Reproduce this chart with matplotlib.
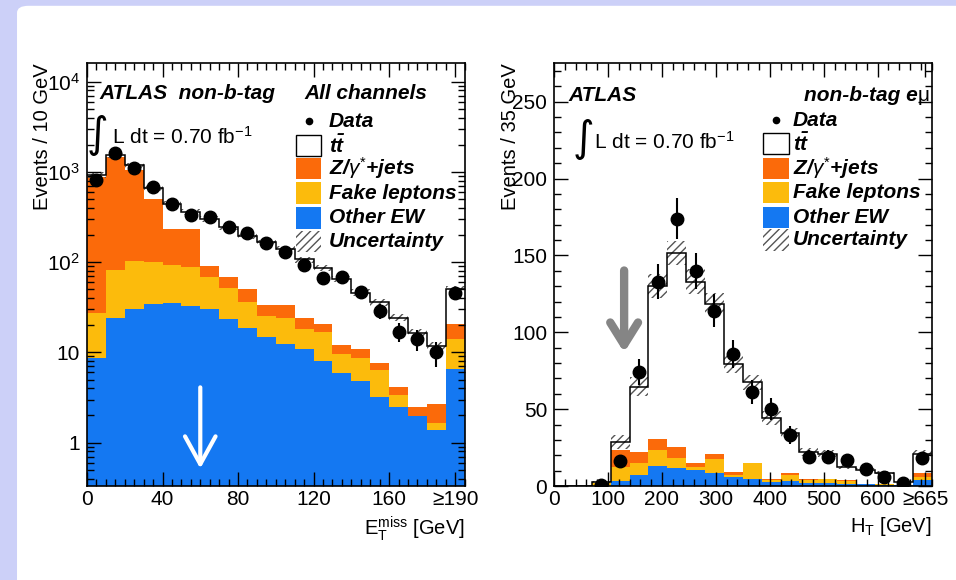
import numpy as np
import matplotlib
matplotlib.use("Agg")
import matplotlib.pyplot as plt
from matplotlib.patches import Rectangle, FancyBboxPatch
from matplotlib.ticker import MultipleLocator, LogLocator, NullFormatter

plt.rcParams["font.family"] = ["Liberation Sans", "DejaVu Sans"]
plt.rcParams["mathtext.fontset"] = "custom"
plt.rcParams["mathtext.rm"] = "Liberation Sans"
plt.rcParams["mathtext.it"] = "Liberation Sans:italic"
plt.rcParams["mathtext.bf"] = "Liberation Sans:bold:italic"
plt.rcParams["hatch.linewidth"] = 1.0

BLUE = "#1478f2"
YELLOW = "#fcbb0c"
ORANGE = "#fb6a0a"
HATCH = "#555555"

# --- missing E_T, 10 GeV bins, last bin holds everything >= 190 GeV ---
met_edges = np.arange(0, 201, 10)
met_data = [815, 1620, 1100, 675, 435, 333, 313, 243, 208, 161,
            128, 94, 67, 69, 47, 29, 17, 14, 10, 45]
met_ew = [8.7, 24, 30, 34, 35, 32.7, 30, 23.3, 18.8, 14.8,
          12.3, 10.8, 8.1, 5.9, 4.8, 3.2, 2.5, 1.96, 1.39, 6.5]
met_fakes = [18.3, 58, 73, 66, 58, 56.3, 39, 28.7, 17.2, 10.2,
             11.7, 7.5, 8.7, 3.6, 3.9, 3.1, 0.9, 0.0, 0.26, 7.4]
met_zjets = [843, 1368, 947, 400, 140, 144, 22, 16, 14, 8.5,
             9.5, 5.7, 3.7, 2.5, 2.1, 1.4, 0.7, 0.54, 1.05, 6.6]
met_ttbar = [60, 70, 130, 160, 207, 130, 209, 175, 146, 132.5,
             105.5, 83, 66.5, 53, 35.2, 28.3, 20.2, 14, 9, 30.5]
met_unc = [70, 110, 85, 50, 33, 27, 22, 18, 15, 12,
           10, 8, 7, 5, 4, 3, 2.2, 1.6, 1.2, 4]
met_ticks = [0, 40, 80, 120, 160, 195]
met_ticklabels = ["0", "40", "80", "120", "160", "\u2265190"]

# --- H_T in the e-mu channel, 35 GeV bins, last bin holds >= 665 GeV ---
ht_edges = np.arange(0, 701, 35)
ht_data = [np.nan, np.nan, 1, 16, 74, 133, 174, 140, 114, 86,
           61, 50, 33, 19, 19, 17, 11, 6, 2, 18]
ht_ew = [0, 0, 0.3, 3.2, 7.1, 12.9, 11.8, 10.4, 8.6, 6,
         4.5, 2.8, 3.5, 2, 1.7, 1.3, 1.1, 0.9, 0.6, 3.9]
ht_fakes = [0, 0, 1.8, 9.3, 7.6, 10.4, 6.7, 2.1, 9.3, 1.5,
            10.2, 1.1, 3.6, 1.9, 2.8, 2.2, 0.2, 0.3, 0.2, 2.1]
ht_zjets = [0, 0, 0.2, 10.8, 7.5, 7.6, 6.9, 2.8, 3.1, 1.8,
            0.4, 0.6, 1.1, 0.6, 0.2, 0.2, 0.2, 0.1, 0.1, 2.6]
ht_ttbar = [0, 0, 0.2, 5.4, 42.5, 99.1, 126.2, 117.7, 97.7, 70.1,
            52.4, 39.7, 26.3, 17.7, 16.3, 8.8, 8.9, 7.3, 1.9, 12.4]
ht_unc = [0, 0, 0.5, 4.5, 6, 8, 8, 8, 7, 6,
          5, 4.5, 3.5, 2.5, 2.2, 1.5, 1.2, 1, 0.6, 2.2]
ht_ticks = [0, 100, 200, 300, 400, 500, 600, 688]
ht_ticklabels = ["0", "100", "200", "300", "400", "500", "600", "\u2265665"]

FS = 15


def draw_stack(ax, edges, ew, fakes, zjets, ttbar, unc, data, base):
    top_ew = np.array(ew, dtype=float)
    top_fk = top_ew + np.array(fakes)
    top_z = top_fk + np.array(zjets)
    total = top_z + np.array(ttbar)
    unc = np.array(unc)
    ax.stairs(top_ew, edges, baseline=base, fill=True, color=BLUE, lw=0)
    ax.stairs(top_fk, edges, baseline=top_ew, fill=True, color=YELLOW, lw=0)
    ax.stairs(top_z, edges, baseline=top_fk, fill=True, color=ORANGE, lw=0)
    ax.stairs(total + unc, edges, baseline=total - unc, fill=True,
              facecolor="none", edgecolor=HATCH, hatch="////", lw=0)
    ax.stairs(total, edges, baseline=None, color="black", lw=1.1)
    centers = 0.5 * (edges[1:] + edges[:-1])
    d = np.array(data, dtype=float)
    ax.errorbar(centers, d, yerr=np.sqrt(d), fmt="o", color="black",
                ms=9, elinewidth=1.5, capsize=0, zorder=5)


def draw_legend(ax, x_box, x_text, rows):
    w = 0.068
    h = 0.05
    labels = ["Data", r"$\mathbf{t\bar{t}}$", r"$\mathbf{Z/}\gamma^{*}\mathbf{+jets}$",
              "Fake leptons", "Other EW", "Uncertainty"]
    for i, (lab, y) in enumerate(zip(labels, rows)):
        if i == 0:
            ax.plot([x_box + w / 2], [y], "o", color="black", ms=4.5,
                    transform=ax.transAxes, clip_on=False)
        else:
            kw = dict(transform=ax.transAxes, clip_on=False, lw=0)
            if i == 1:
                kw.update(facecolor="white", edgecolor="black", lw=1.0)
            elif i == 2:
                kw.update(facecolor=ORANGE)
            elif i == 3:
                kw.update(facecolor=YELLOW)
            elif i == 4:
                kw.update(facecolor=BLUE)
            else:
                kw.update(facecolor="none", edgecolor=HATCH, hatch="////")
            ax.add_patch(Rectangle((x_box, y - h / 2), w, h, **kw))
        ax.text(x_text, y, lab, transform=ax.transAxes, fontsize=FS,
                fontweight="bold", fontstyle="italic", va="center", ha="left")


def style_axes(ax):
    for s in ax.spines.values():
        s.set_linewidth(1.2)
    ax.tick_params(which="both", direction="in", top=True, right=True,
                   labelsize=FS, width=1.0)
    ax.tick_params(which="major", length=10)
    ax.tick_params(which="minor", length=5)
    ax.tick_params(axis="x", pad=3)
    ax.tick_params(axis="y", pad=5)


fig = plt.figure(figsize=(9.56, 5.8), dpi=100)
fig.patch.set_facecolor("#ccd0f8")
fig.add_artist(FancyBboxPatch((0.0178, -0.05), 1.2, 1.04, transform=fig.transFigure,
                              boxstyle="round,pad=0,rounding_size=0.012",
                              facecolor="white", edgecolor="none", zorder=0))

# left panel: missing transverse energy, log scale
ax1 = fig.add_axes([0.091, 0.162, 0.395, 0.729])
draw_stack(ax1, met_edges, met_ew, met_fakes, met_zjets, met_ttbar, met_unc, met_data, 1e-3)
ax1.set_yscale("log")
ax1.set_xlim(0, 200)
ax1.set_ylim(0.33, 1.6e4)
ax1.set_xticks(met_ticks, met_ticklabels)
ax1.xaxis.set_minor_locator(MultipleLocator(5))
ax1.set_yticks([1, 10, 100, 1000, 10000],
               ["1", "10", r"$10^{2}$", r"$10^{3}$", r"$10^{4}$"])
ax1.yaxis.set_minor_locator(LogLocator(base=10, subs=np.arange(2, 10)))
ax1.yaxis.set_minor_formatter(NullFormatter())
style_axes(ax1)
ax1.set_ylabel("Events / 10 GeV", fontsize=14.5, loc="top")
ax1.yaxis.set_label_coords(-0.093, 1.0)
ax1.set_xlabel(r"E$_{\rm T}^{\rm miss}$ [GeV]", fontsize=14.5, loc="right")
ax1.xaxis.set_label_coords(1.0, -0.068)
ax1.text(0.034, 0.929, "ATLAS  non-b-tag", transform=ax1.transAxes, fontsize=FS,
         fontweight="bold", fontstyle="italic", va="center")
ax1.text(0.577, 0.929, "All channels", transform=ax1.transAxes, fontsize=FS,
         fontweight="bold", fontstyle="italic", va="center")
ax1.text(0.0, 0.83, "\u222b", transform=ax1.transAxes, fontsize=30,
         family="DejaVu Sans", va="center", zorder=6)
ax1.text(0.066, 0.826, r"L dt = 0.70 fb$^{-1}$", transform=ax1.transAxes,
         fontsize=FS, va="center", zorder=6)
draw_legend(ax1, 0.553, 0.640, [0.863, 0.805, 0.752, 0.693, 0.634, 0.579])
ax1.annotate("", xy=(60, 0.035), xytext=(60, 0.24),
             xycoords=ax1.get_xaxis_transform(), textcoords=ax1.get_xaxis_transform(),
             arrowprops=dict(arrowstyle="->,head_length=1.0,head_width=0.55",
                             color="white", lw=3, mutation_scale=20))

# right panel: H_T, linear scale
ax2 = fig.add_axes([0.5795, 0.162, 0.395, 0.729])
draw_stack(ax2, ht_edges, ht_ew, ht_fakes, ht_zjets, ht_ttbar, ht_unc, ht_data, 0)
ax2.set_xlim(0, 700)
ax2.set_ylim(0, 275)
ax2.set_xticks(ht_ticks, ht_ticklabels)
ax2.xaxis.set_minor_locator(MultipleLocator(20))
ax2.yaxis.set_major_locator(MultipleLocator(50))
ax2.yaxis.set_minor_locator(MultipleLocator(10))
style_axes(ax2)
ax2.set_ylabel("Events / 35 GeV", fontsize=14.5, loc="top")
ax2.yaxis.set_label_coords(-0.09, 1.0)
ax2.set_xlabel(r"H$_{\rm T}$ [GeV]", fontsize=14.5, loc="right")
ax2.xaxis.set_label_coords(1.0, -0.068)
ax2.text(0.037, 0.924, "ATLAS", transform=ax2.transAxes, fontsize=FS,
         fontweight="bold", fontstyle="italic", va="center")
ax2.text(0.962, 0.924, "non-b-tag e", transform=ax2.transAxes, fontsize=FS,
         fontweight="bold", fontstyle="italic", va="center", ha="right")
ax2.text(0.995, 0.924, "\u03bc", transform=ax2.transAxes, fontsize=FS,
         va="center", ha="right")
ax2.text(0.05, 0.82, "\u222b", transform=ax2.transAxes, fontsize=30,
         family="DejaVu Sans", va="center")
ax2.text(0.105, 0.815, r"L dt = 0.70 fb$^{-1}$", transform=ax2.transAxes,
         fontsize=FS, va="center")
draw_legend(ax2, 0.553, 0.632, [0.865, 0.81, 0.752, 0.695, 0.636, 0.582])
ax2.annotate("", xy=(130, 85), xytext=(130, 142),
             arrowprops=dict(arrowstyle="->,head_length=0.8,head_width=0.5",
                             color="#858585", lw=6, mutation_scale=20))

fig.savefig("out.png", dpi=100)
